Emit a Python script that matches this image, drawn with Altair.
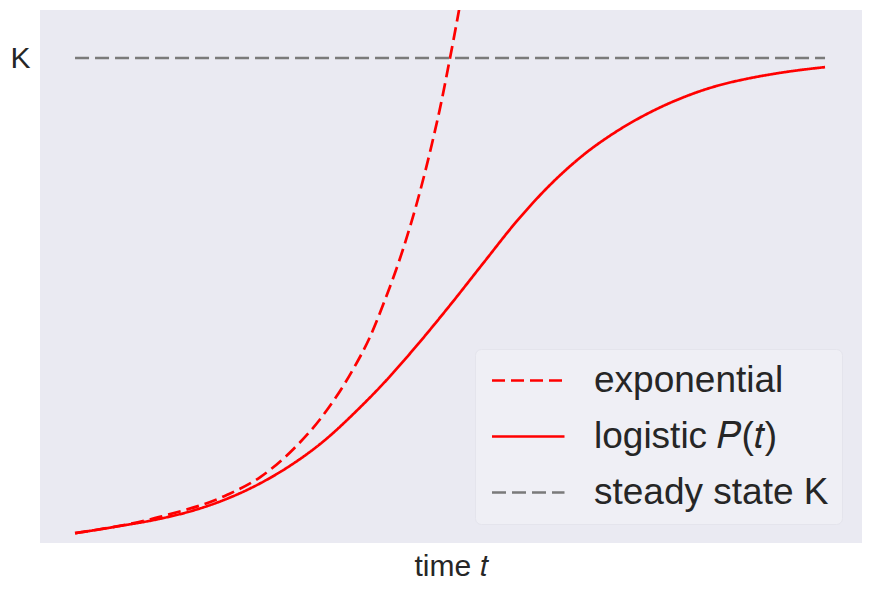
import altair as alt
import pandas as pd

# ---- data (t in time units, P in units of K) ----
exp_t = [0.0, 1.13, 2.03, 2.47, 2.91, 3.27, 3.71, 3.93, 4.13, 4.37, 4.60, 4.76, 4.87, 5.00, 5.12, 5.21]
exp_p = [0.010, 0.044, 0.090, 0.127, 0.185, 0.248, 0.352, 0.418, 0.495, 0.600, 0.722, 0.822, 0.898, 1.000, 1.100, 1.180]

log_t = [0.0, 0.56, 1.13, 1.57, 2.03, 2.47, 2.91, 3.27, 3.80, 4.13, 4.47, 5.00, 5.44, 5.89, 6.33,
         6.77, 7.23, 7.67, 8.11, 8.56, 9.00, 9.44, 10.0]
log_p = [0.010, 0.024, 0.040, 0.057, 0.082, 0.114, 0.155, 0.196, 0.272, 0.325, 0.385, 0.485, 0.572,
         0.660, 0.735, 0.797, 0.848, 0.887, 0.918, 0.942, 0.958, 0.970, 0.981]

k_t = [0.0, 10.0]
k_p = [1.0, 1.0]

series_names = ["exponential", "logistic 𝑃(𝑡)", "steady state K"]
series_colors = ["#ff0000", "#ff0000", "#7a7a7a"]
series_dash = [[13, 6], [1, 0], [14, 6]]
series_width = [2.7, 2.7, 2.4]

rows = []
for t, p in zip(exp_t, exp_p):
    rows.append({"t": t, "P": p, "series": series_names[0]})
for t, p in zip(log_t, log_p):
    rows.append({"t": t, "P": p, "series": series_names[1]})
for t, p in zip(k_t, k_p):
    rows.append({"t": t, "P": p, "series": series_names[2]})
df = pd.DataFrame(rows)

x_dom = [-0.467, 10.493]
y_dom = [-0.0104, 1.10]

legend_opts = dict(
    title=None, orient="none", legendX=435, legendY=339,
    symbolType="M-1,0H4", symbolSize=841, symbolStrokeWidth=2.6,
    labelFontSize=37, labelFont="Liberation Sans", labelColor="#262626",
    labelOffset=69, rowPadding=18, padding=13,
    fillColor="#EFEFF5", strokeColor="#E4E4EC", cornerRadius=6, labelLimit=400,
)

chart = alt.Chart(df).mark_line(clip=True, interpolate="monotone").encode(
    x=alt.X("t:Q", scale=alt.Scale(domain=x_dom, nice=False, zero=False),
            axis=alt.Axis(title="time 𝑡", labels=False, ticks=False, domain=False, grid=False,
                          titleFontSize=30, titleFontWeight="normal", titleColor="#262626",
                          titleFont="Liberation Sans", titlePadding=8)),
    y=alt.Y("P:Q", scale=alt.Scale(domain=y_dom, nice=False, zero=False),
            axis=alt.Axis(title=None, values=[1.0], labelExpr="'K'", ticks=False, domain=False,
                          grid=False, labelFontSize=30, labelColor="#262626",
                          labelFont="Liberation Sans", labelPadding=10)),
    color=alt.Color("series:N", scale=alt.Scale(domain=series_names, range=series_colors),
                    legend=alt.Legend(**legend_opts)),
    strokeDash=alt.StrokeDash("series:N", scale=alt.Scale(domain=series_names, range=series_dash),
                              legend=alt.Legend(**legend_opts)),
    strokeWidth=alt.StrokeWidth("series:N", scale=alt.Scale(domain=series_names, range=series_width),
                                legend=None),
).properties(
    width=822, height=533,
    background="white",
    autosize=alt.AutoSizeParams(type="none"),
    padding={"left": 32, "top": 2, "right": 5, "bottom": 40},
).configure_view(
    fill="#EAEAF2", stroke=None
)

chart.save("out.html", embed_options={"renderer": "svg", "actions": False})
